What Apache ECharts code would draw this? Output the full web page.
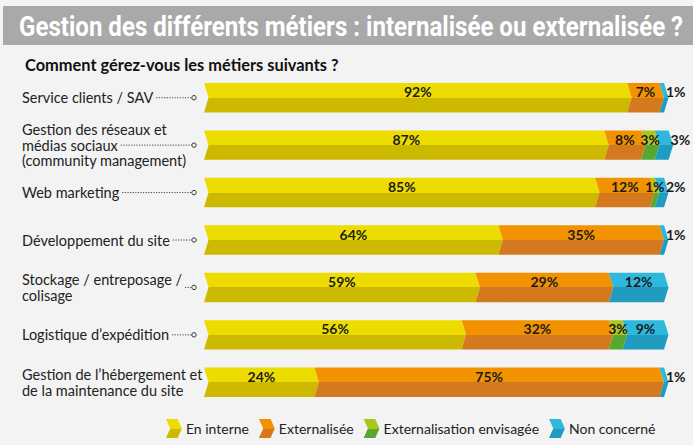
<!DOCTYPE html>
<html><head><meta charset="utf-8">
<script src="https://cdn.jsdelivr.net/npm/echarts@6/dist/echarts.min.js"></script>
<style>html,body{margin:0;padding:0;background:#f3f3f3}#c{width:693px;height:445px}</style>
</head><body><div id="c"></div>
<script>
// ---- data ----
const titleText = 'Gestion des différents métiers : internalisée ou externalisée ?';
const subtitleText = 'Comment gérez-vous les métiers suivants ?';
const categories = [
  'Service clients / SAV',
  'Gestion des réseaux et\nmédias sociaux\n(community management)',
  'Web marketing',
  'Développement du site',
  'Stockage / entreposage /\ncolisage',
  'Logistique d\u2019expédition',
  'Gestion de l\u2019hébergement et\nde la maintenance du site'
];
const seriesNames = ['En interne', 'Externalisée', 'Externalisation envisagée', 'Non concerné'];
const enInterne    = [92, 87, 85, 64, 59, 56, 24];
const externalisee = [7, 8, 12, 35, 29, 32, 75];
const envisagee    = [0, 3, 1, 0, 0, 3, 0];
const nonConcerne  = [1, 3, 2, 1, 12, 9, 1];

// ---- styles ----
const palette = [
  ['#eddc00', '#cdba00'],
  ['#f39200', '#d4791e'],
  ['#acc61f', '#55a92e'],
  ['#2db8dc', '#1f9cbf']
];
function twoTone(c) {
  return { type: 'linear', x: 0, y: 0, x2: 0, y2: 1, colorStops: [
    { offset: 0, color: c[0] }, { offset: 0.5, color: c[0] },
    { offset: 0.5, color: c[1] }, { offset: 1, color: c[1] } ] };
}
const labelFont = 'Lato';
const catFontSize = 14.5;
const chevronD = 4.5;
const barRatio = 0.62;

const measureCtx = document.createElement('canvas').getContext('2d');
function textW(s, font) { measureCtx.font = font; return measureCtx.measureText(s).width; }

const allSeries = [enInterne, externalisee, envisagee, nonConcerne];
const cum = categories.map(() => 0);
const builtSeries = allSeries.map((vals, si) => {
  const data = vals.map((v, ci) => {
    const s = cum[ci];
    cum[ci] += v;
    return [s, s + v, ci, v];
  });
  return {
    name: seriesNames[si],
    type: 'custom',
    itemStyle: { color: twoTone(palette[si]) },
    encode: { x: [0, 1], y: 2 },
    data: data,
    renderItem: function (params, api) {
      const v = api.value(3);
      if (!v) return null;
      const cat = api.value(2);
      const p0 = api.coord([api.value(0), cat]);
      const p1 = api.coord([api.value(1), cat]);
      const bh = api.size([0, 1])[1] * barRatio;
      const mid = p0[1], top = mid - bh / 2, bot = mid + bh / 2;
      const x0 = p0[0], x1 = p1[0], d = chevronD;
      const isLastSmall = (si === 3 && v <= 3);
      const lx = isLastSmall ? x1 + 2 : (x0 + x1) / 2 + d / 2;
      return {
        type: 'group',
        children: [
          { type: 'polygon',
            shape: { points: [[x0, top], [x1, top], [x1 + d, mid], [x1, bot], [x0, bot], [x0 + d, mid]] },
            style: { fill: twoTone(palette[si]) } },
          { type: 'text', z2: 100,
            style: { text: v + '%', x: lx, y: mid - 6,
              align: isLastSmall ? 'left' : 'center', verticalAlign: 'middle',
              font: 'bold 14px ' + labelFont, fill: '#1b1b1b' } }
        ]
      };
    }
  };
});

// leader lines (dotted + small circle)
const labelLeft = 22;
builtSeries.push({
  type: 'custom',
  name: 'leaders',
  silent: true,
  data: categories.map((c, i) => [0, i]),
  encode: { x: 0, y: 1 },
  renderItem: function (params, api) {
    const ci = api.value(1);
    const p = api.coord([0, ci]);
    const lines = categories[ci].split('\n');
    const li = Math.floor((lines.length - 1) / 2);
    const endX = labelLeft + textW(lines[li], catFontSize + 'px ' + labelFont) + 3;
    const cx = p[0] - 10, cy = p[1];
    if (endX > cx - 6) return null;
    return { type: 'group', children: [
      { type: 'line', shape: { x1: endX, y1: cy, x2: cx - 2.5, y2: cy },
        style: { stroke: '#444', lineWidth: 1, lineDash: [1.2, 1.4] } },
      { type: 'circle', shape: { cx: cx, cy: cy, r: 2.2 },
        style: { fill: '#f3f3f3', stroke: '#333', lineWidth: 1 } }
    ] };
  }
});

// title condensed to the reference width
const titleFont = 'bold 28px Roboto';
const titleTargetW = 664;
const titleScale = titleTargetW / textW(titleText, titleFont);

const chart = echarts.init(document.getElementById('c'), null, { renderer: 'svg' });
chart.setOption({
  backgroundColor: '#f3f3f3',
  animation: false,
  graphic: [
    { type: 'rect', z: -10, silent: true,
      shape: { x: 3, y: 6, width: 690, height: 39 }, style: { fill: '#a9a9a9' } },
    { type: 'text', z: 10, silent: true, x: 19, y: 26, scaleX: titleScale,
      style: { text: titleText, font: titleFont, fill: '#ffffff',
        align: 'left', verticalAlign: 'middle' } }
  ],
  title: [
    { text: subtitleText, left: 20, top: 51,
      textStyle: { color: '#111', fontSize: 16.4, fontWeight: 'bold', fontFamily: labelFont } }
  ],
  legend: {
    data: seriesNames, left: 161, top: 414,
    icon: 'path://M0,0 L11,0 L15,9 L11,18 L0,18 L4,9 Z',
    itemWidth: 16, itemHeight: 19, itemGap: 10,
    textStyle: { fontSize: 14, color: '#222', fontFamily: labelFont, padding: [0, 0, 0, -1] }
  },
  grid: { left: 204, right: 29, top: 74, height: 332 },
  xAxis: { type: 'value', min: 0, max: 100, show: false },
  yAxis: { type: 'category', data: categories, inverse: true,
    axisLine: { show: false }, axisTick: { show: false }, splitLine: { show: false },
    axisLabel: { align: 'left', margin: 182, fontSize: catFontSize, lineHeight: 15.5,
      color: '#222', fontFamily: labelFont } },
  series: builtSeries
});
</script></body></html>
